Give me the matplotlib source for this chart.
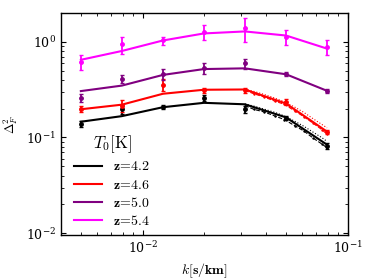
import numpy as np
import matplotlib
matplotlib.use('Agg')
import matplotlib.pyplot as plt

plt.rcParams['mathtext.fontset'] = 'cm'
plt.rcParams['font.family'] = 'serif'
plt.rcParams['font.serif'] = ['DejaVu Serif']

# k bins [s/km]
k = [0.005, 0.00792, 0.01256, 0.0199, 0.0315, 0.05, 0.0792]

# model curves (solid)
model_42 = [0.146, 0.167, 0.207, 0.230, 0.222, 0.162, 0.084]
model_46 = [0.197, 0.220, 0.286, 0.315, 0.317, 0.226, 0.115]
model_50 = [0.305, 0.348, 0.450, 0.518, 0.527, 0.457, 0.307]
model_54 = [0.647, 0.800, 1.030, 1.220, 1.280, 1.160, 0.847]

# measurements
data_42 = [0.139, 0.196, 0.207, 0.260, 0.196, 0.160, 0.082]
err_42 = [0.010, 0.020, 0.010, 0.020, 0.015, 0.008, 0.006]
data_46 = [0.200, 0.215, 0.357, 0.310, 0.310, 0.235, 0.115]
err_46 = [0.015, 0.030, 0.055, 0.020, 0.020, 0.015, 0.006]
data_50 = [0.259, 0.410, 0.460, 0.530, 0.593, 0.457, 0.307]
err_50 = [0.026, 0.040, 0.060, 0.070, 0.070, 0.020, 0.015]
data_54 = [0.617, 0.937, 1.030, 1.270, 1.390, 1.120, 0.890]
err_54 = [0.110, 0.190, 0.100, 0.230, 0.390, 0.190, 0.160]

# finer k bins at high k, alternative T0 models
k_fine = [0.0315, 0.035, 0.039, 0.044, 0.049, 0.055, 0.061, 0.068, 0.075, 0.0792]
lo_42 = [0.215, 0.196, 0.185, 0.168, 0.154, 0.133, 0.117, 0.098, 0.085, 0.078]
hi_42 = [0.224, 0.212, 0.198, 0.183, 0.168, 0.148, 0.131, 0.113, 0.099, 0.091]
lo_46 = [0.310, 0.285, 0.265, 0.240, 0.222, 0.190, 0.165, 0.140, 0.120, 0.108]
hi_46 = [0.320, 0.302, 0.282, 0.258, 0.236, 0.208, 0.183, 0.156, 0.136, 0.126]

colors = ['black', 'red', '#800080', 'magenta']
labels = [r'$\mathbf{z\!=\!4.2}$', r'$\mathbf{z\!=\!4.6}$',
          r'$\mathbf{z\!=\!5.0}$', r'$\mathbf{z\!=\!5.4}$']
models = [model_42, model_46, model_50, model_54]
datas = [data_42, data_46, data_50, data_54]
errs = [err_42, err_46, err_50, err_54]

fig = plt.figure(figsize=(3.74, 2.80), dpi=100)
ax = fig.add_axes([0.163, 0.161, 0.767, 0.793])

ax.plot(k_fine, lo_42, color='black', ls='--', lw=0.8, marker='+', ms=2)
ax.plot(k_fine, hi_42, color='black', ls=':', lw=0.8)
ax.plot(k_fine, lo_46, color='red', ls='--', lw=0.8, marker='+', ms=2)
ax.plot(k_fine, hi_46, color='red', ls=':', lw=0.8)

for m, d, e, c, lab in zip(models, datas, errs, colors, labels):
    ax.plot(k, m, color=c, lw=1.5, label=lab)
    ax.errorbar(k, d, yerr=e, fmt='o', color=c, ms=2.5, elinewidth=1.3,
                capsize=1.5)

ax.set_xscale('log')
ax.set_yscale('log')
ax.set_xlim(0.004, 0.1)
ax.set_ylim(0.0096, 2.0)
ax.tick_params(which='both', direction='in', top=True, right=True, labelsize=9)
for s in ax.spines.values():
    s.set_linewidth(1.0)

ax.set_xlabel(r'$k[\mathbf{s/km}]$', fontsize=10)
ax.set_ylabel(r'$\Delta^2_F$', fontsize=9)

leg = ax.legend(loc='lower left', bbox_to_anchor=(0.022, 0.0), frameon=False,
                fontsize=10, title=r'$T_0[\mathrm{K}]$', title_fontsize=12,
                handlelength=2.0, labelspacing=0.3, borderaxespad=0.1)

fig.savefig('out.png', dpi=100)
